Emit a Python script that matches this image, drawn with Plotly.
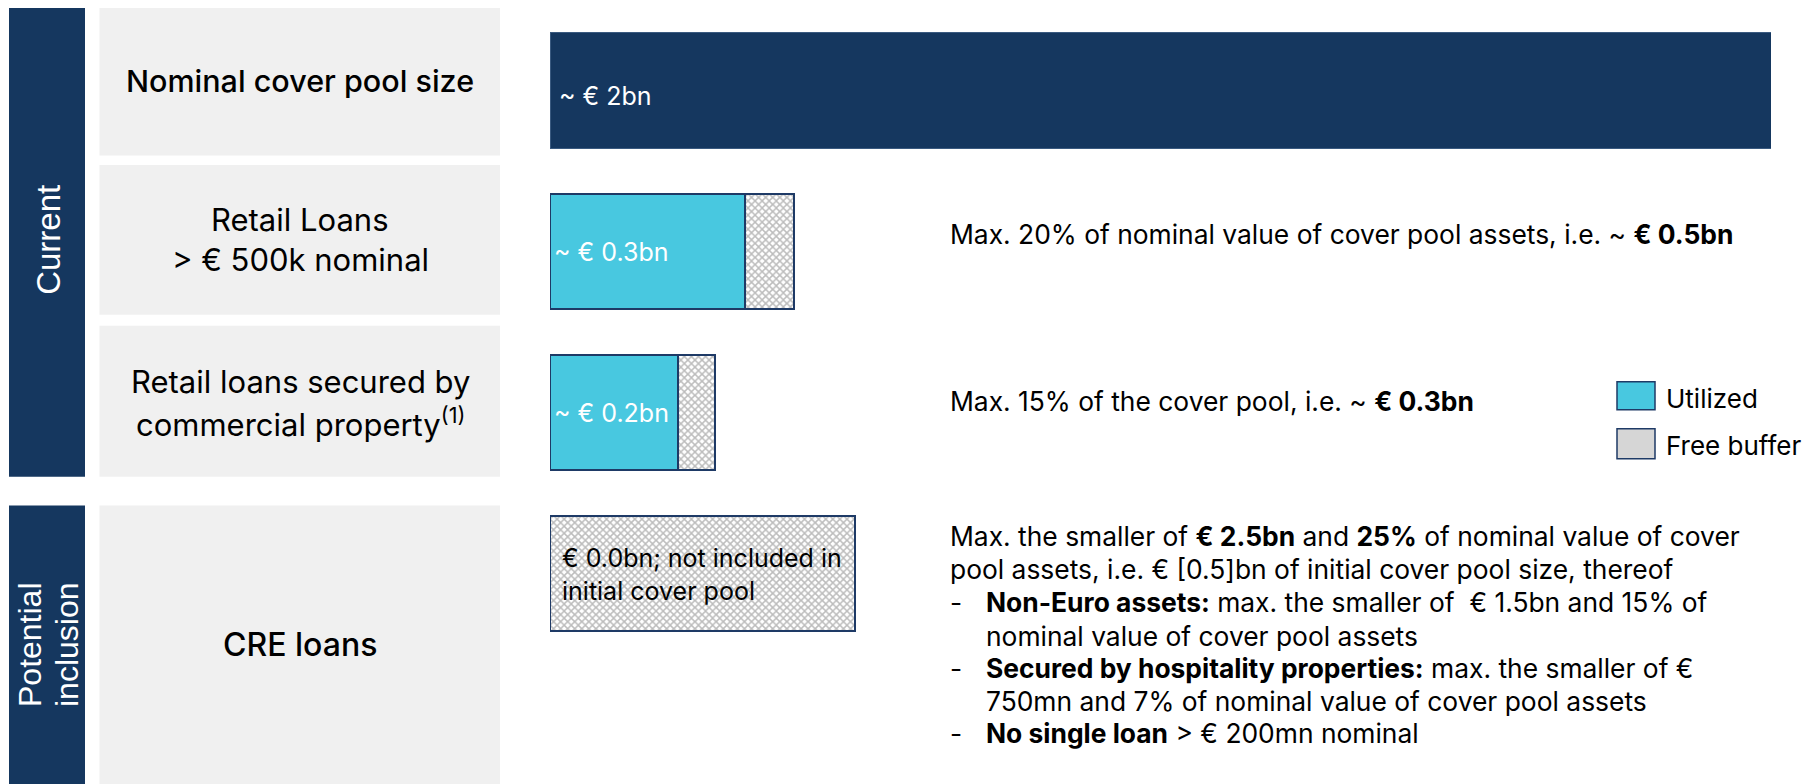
import plotly.graph_objects as go

# ---------------- data ----------------
categories = ["Nominal cover pool size",
              "Retail Loans > € 500k nominal",
              "Retail loans secured by commercial property",
              "CRE loans"]
nominal_bn = [2.0, None, None, None]
utilized_bn = [None, 0.32, 0.21, None]
free_buffer_bn = [None, 0.08, 0.06, 0.50]
bar_labels = ["~ € 2bn", "~ € 0.3bn", "~ € 0.2bn",
              "€ 0.0bn; not included in<br>initial cover pool"]

row_label_lines = [["Nominal cover pool size"],
                   ["Retail Loans", "> € 500k nominal"],
                   ["Retail loans secured by", "commercial property<sup>(1)</sup>"],
                   ["CRE loans"]]
limit_texts = ["Max. 20% of nominal value of cover pool assets, i.e. ~ <b>€ 0.5bn</b>",
               "Max. 15% of the cover pool, i.e. ~ <b>€ 0.3bn</b>"]
cre_lines = ["Max. the smaller of <b>€ 2.5bn</b> and <b>25%</b> of nominal value of cover",
             "pool assets, i.e. € [0.5]bn of initial cover pool size, thereof",
             "<b>Non-Euro assets:</b> max. the smaller of  € 1.5bn and 15% of",
             "nominal value of cover pool assets",
             "<b>Secured by hospitality properties:</b> max. the smaller of €",
             "750mn and 7% of nominal value of cover pool assets",
             "<b>No single loan</b> > € 200mn nominal"]
cre_bullet = [False, False, True, False, True, False, True]
cre_indent = [False, False, True, True, True, True, True]
section_labels = ["Current", "Potential", "inclusion"]
legend_names = ["Utilized", "Free buffer"]

# ---------------- styling ----------------
OFF = 8                      # page body margin of the html page
W, H = 1815 - OFF, 784 - OFF
L = 550 - OFF
R = W - (1771 - OFF)
T = 10 - OFF
B = H - (654.5 - OFF)
PW, PH = W - L - R, H - T - B
NAVY = "#15375F"
CYAN = "#48C8E0"
GREY = "#F0F0F0"
EDGE = "#1E3A66"
FONT = "Inter"
BAND_FONT = "Liberation Sans"


def px(x):
    return (x - OFF - L) / PW


def py(y):
    return 1 - (y - OFF - T) / PH


fig = go.Figure()
fig.add_trace(go.Bar(
    y=categories, x=nominal_bn, orientation="h", name="Nominal",
    marker=dict(color=NAVY, line=dict(color="#3A5A80", width=1)),
    cliponaxis=False, showlegend=False))
fig.add_trace(go.Bar(
    y=categories, x=utilized_bn, orientation="h", name=legend_names[0],
    marker=dict(color=CYAN, line=dict(color=EDGE, width=2)),
    cliponaxis=False, showlegend=False))
fig.add_trace(go.Bar(
    y=categories, x=free_buffer_bn, orientation="h", name=legend_names[1],
    marker=dict(color="white", line=dict(color=EDGE, width=2),
                pattern=dict(shape="x", size=5, solidity=0.5,
                             fgcolor="#7a7a7a", bgcolor="white")),
    cliponaxis=False, showlegend=False))

shapes = []
# section bands
for y0, y1 in [(5, 477), (506, 800)]:
    shapes.append(dict(type="rect", xref="paper", yref="paper", layer="below",
                       x0=px(9), x1=px(85), y0=py(y0), y1=py(y1),
                       fillcolor=NAVY, line=dict(width=0)))
# grey label boxes
box_rows = [(4, 155.5), (165, 315), (326, 477), (506, 800)]
for y0, y1 in box_rows:
    shapes.append(dict(type="rect", xref="paper", yref="paper", layer="below",
                       x0=px(99.5), x1=px(500), y0=py(y0), y1=py(y1),
                       fillcolor=GREY, line=dict(width=0)))
# legend swatches
shapes.append(dict(type="rect", xref="paper", yref="paper",
                   x0=px(1617), x1=px(1655), y0=py(382), y1=py(410),
                   fillcolor=CYAN, line=dict(color=EDGE, width=1.5)))
shapes.append(dict(type="rect", xref="paper", yref="paper",
                   x0=px(1617), x1=px(1655), y0=py(429), y1=py(459),
                   fillcolor="#d6d6d6", line=dict(color=EDGE, width=1.5)))

ann = []


def add_text(text, x, y, size=26, xanchor="left", color="black", family=FONT,
             angle=0, weight=None):
    f = dict(size=size, color=color, family=family)
    if weight:
        f["weight"] = weight
    ann.append(dict(text=text, x=px(x), y=py(y), xref="paper", yref="paper",
                    xanchor=xanchor, yanchor="middle", showarrow=False,
                    textangle=angle, font=f, align="left"))


# section labels (rotated)
add_text(section_labels[0], 49, 240, size=33, xanchor="center", color="white",
         family=BAND_FONT, angle=-90)
add_text(section_labels[1], 29.5, 645, size=32, xanchor="center", color="white",
         family=BAND_FONT, angle=-90)
add_text(section_labels[2], 66.5, 645, size=32, xanchor="center", color="white",
         family=BAND_FONT, angle=-90)

# row labels
add_text(row_label_lines[0][0], 300, 81, size=30.5, xanchor="center", weight=500)
add_text(row_label_lines[1][0], 300, 220, size=31, xanchor="center")
add_text(row_label_lines[1][1], 300, 260, size=31, xanchor="center")
add_text(row_label_lines[2][0], 300, 382, size=31, xanchor="center")
add_text(row_label_lines[2][1], 300, 423, size=31, xanchor="center")
add_text(row_label_lines[3][0], 300, 645, size=32, xanchor="center", weight=500)

# limit descriptions
add_text(limit_texts[0], 948, 234, size=26.4)
add_text(limit_texts[1], 948, 401, size=26.4)

# CRE description block
cre_y = [536, 569, 602, 636, 669, 702, 734]
for line, bullet, indent, yy in zip(cre_lines, cre_bullet, cre_indent, cre_y):
    if bullet:
        add_text("-", 948, yy, size=26.4)
    add_text(line, 984 if indent else 948, yy, size=26.4)

# legend labels
add_text(legend_names[0], 1664, 399)
add_text(legend_names[1], 1664, 446)

# bar labels, anchored on the data axes at the start of each bar
label_style = [("white", 25, 7, -5), ("white", 25, 2, 0),
               ("white", 25, 2, 0), ("black", 25, 10, -1)]
for cat, lab, (col, size, xs, ys) in zip(categories, bar_labels, label_style):
    ann.append(dict(text=lab, x=0, y=cat, xref="x", yref="y",
                    xanchor="left", yanchor="middle", xshift=xs, yshift=ys,
                    showarrow=False, align="left",
                    font=dict(size=size, color=col, family=FONT)))

fig.update_layout(
    width=W, height=H,
    margin=dict(l=L, r=R, t=T, b=B, autoexpand=False),
    paper_bgcolor="white", plot_bgcolor="white",
    barmode="stack", bargap=0.28,
    xaxis=dict(range=[0, 2.0], visible=False, fixedrange=True),
    yaxis=dict(categoryorder="array", categoryarray=categories,
               autorange="reversed", visible=False, fixedrange=True),
    shapes=shapes, annotations=ann,
    font=dict(family=FONT),
    showlegend=False,
)

fig.write_html("out.html", config={"displayModeBar": False})
